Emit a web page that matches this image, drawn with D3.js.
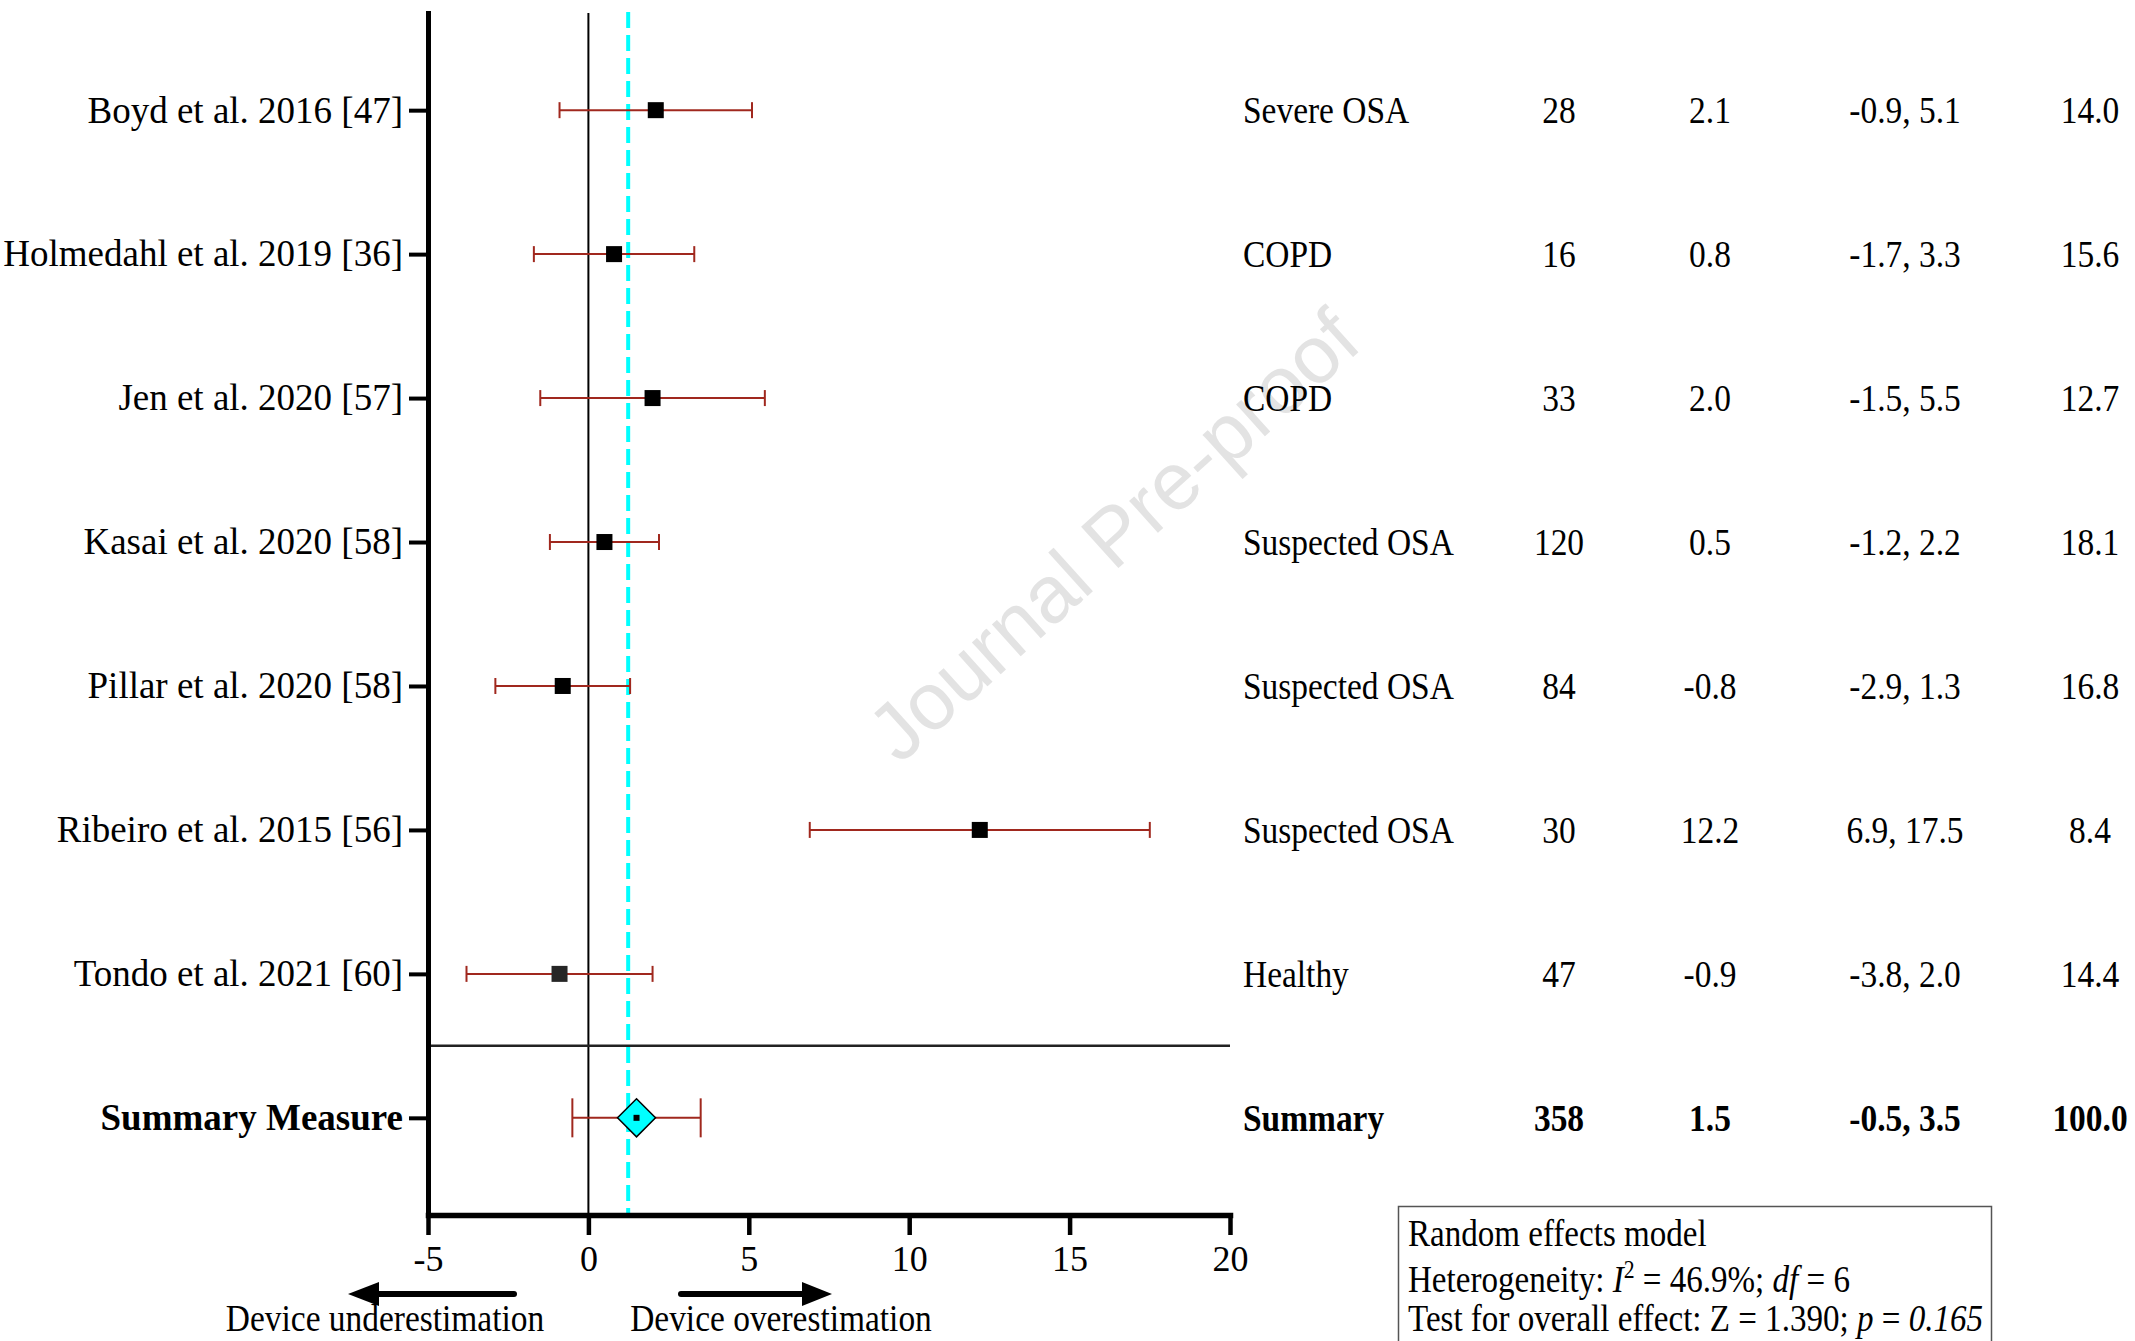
<!DOCTYPE html>
<html>
<head>
<meta charset="utf-8">
<style>
  body { margin: 0; background: #fff; }
  svg { display: block; }
</style>
</head>
<body>
<svg width="2135" height="1341" font-family="'Liberation Serif', 'Times New Roman', serif"></svg>
<script src="https://d3js.org/d3.v7.min.js"></script>
<script>

// forest plot values, one entry per row (last row = pooled estimate)
var studies = ["Boyd et al. 2016 [47]", "Holmedahl et al. 2019 [36]", "Jen et al. 2020 [57]",
  "Kasai et al. 2020 [58]", "Pillar et al. 2020 [58]", "Ribeiro et al. 2015 [56]",
  "Tondo et al. 2021 [60]", "Summary Measure"];
var populations = ["Severe OSA", "COPD", "COPD", "Suspected OSA", "Suspected OSA",
  "Suspected OSA", "Healthy", "Summary"];
var sampleSizes = [28, 16, 33, 120, 84, 30, 47, 358];
var meanDiffs = [2.1, 0.8, 2.0, 0.5, -0.8, 12.2, -0.9, 1.5];
var ciLower = [-0.9, -1.7, -1.5, -1.2, -2.9, 6.9, -3.8, -0.5];
var ciUpper = [5.1, 3.3, 5.5, 2.2, 1.3, 17.5, 2.0, 3.5];
var weights = [14.0, 15.6, 12.7, 18.1, 16.8, 8.4, 14.4, 100.0];
var xTicks = [-5, 0, 5, 10, 15, 20];
var dashedRef = 1.24;

var svg = d3.select("svg"),
    width = +svg.attr("width"),
    height = +svg.attr("height");

var rows = d3.range(studies.length),
    last = studies.length - 1,
    red = "#a0281e";

var x = d3.scaleLinear().domain([-5, 20]).range([428, 1230]);
var y = d3.scalePoint().domain(rows).range([13, 1215]).padding(0.675);

svg.append("rect").attr("width", width).attr("height", height).attr("fill", "#fff");

// watermark
svg.append("text")
    .attr("transform", "translate(1132,556) rotate(-42)")
    .attr("text-anchor", "middle")
    .attr("font-family", "'Liberation Sans', Arial, sans-serif")
    .attr("font-size", 81)
    .attr("fill", "#e3e3e3")
    .text("Journal Pre-proof");

// no-difference line
svg.append("line")
    .attr("x1", x(0)).attr("x2", x(0))
    .attr("y1", 13).attr("y2", 1215)
    .attr("stroke", "#000").attr("stroke-width", 2);

// dashed reference line
svg.append("line")
    .attr("x1", x(dashedRef)).attr("x2", x(dashedRef))
    .attr("y1", 12).attr("y2", 1213)
    .attr("stroke", "#00ffff").attr("stroke-width", 4)
    .attr("stroke-dasharray", "16,7");

// separator above summary row
var sepY = (y(last - 1) + y(last)) / 2;
svg.append("line")
    .attr("x1", x(-5)).attr("x2", x(20))
    .attr("y1", sepY).attr("y2", sepY)
    .attr("stroke", "#222").attr("stroke-width", 2.5);

// error bars
var bars = svg.append("g").selectAll("g")
  .data(rows)
  .join("g");

bars.append("line")
    .attr("x1", function(i) { return x(ciLower[i]); })
    .attr("x2", function(i) { return x(ciUpper[i]); })
    .attr("y1", function(i) { return y(i); })
    .attr("y2", function(i) { return y(i); })
    .attr("stroke", red).attr("stroke-width", 2);

bars.selectAll(".cap")
  .data(function(i) {
    var h = i === last ? 19.5 : 8;
    return [ciLower[i], ciUpper[i]].map(function(v) { return {v: v, row: i, h: h}; });
  })
  .join("line")
    .attr("class", "cap")
    .attr("x1", function(d) { return x(d.v); })
    .attr("x2", function(d) { return x(d.v); })
    .attr("y1", function(d) { return y(d.row) - d.h; })
    .attr("y2", function(d) { return y(d.row) + d.h; })
    .attr("stroke", red).attr("stroke-width", 2);

// study point estimates
svg.append("g").selectAll("rect")
  .data(rows.slice(0, last))
  .join("rect")
    .attr("x", function(i) { return x(meanDiffs[i]) - 8; })
    .attr("y", function(i) { return y(i) - 8; })
    .attr("width", 16).attr("height", 16)
    .attr("fill", function(i) { return studies[i].indexOf("Tondo") === 0 ? "#262626" : "#000"; });

// pooled diamond
var cx = x(meanDiffs[last]), cy = y(last), r = 19;
svg.append("path")
    .attr("d", "M" + (cx - r) + "," + cy + "L" + cx + "," + (cy - r) + "L" + (cx + r) + "," + cy + "L" + cx + "," + (cy + r) + "Z")
    .attr("fill", "#00ffff").attr("stroke", "#000").attr("stroke-width", 1.5);
svg.append("rect")
    .attr("x", cx - 3).attr("y", cy - 3).attr("width", 6).attr("height", 6)
    .attr("fill", "#000");

// axes
var yAxis = svg.append("g")
    .attr("transform", "translate(" + x(-5) + ",0)")
    .call(d3.axisLeft(y).tickSize(19).tickSizeOuter(0).tickPadding(6)
      .tickFormat(function(i) { return studies[i]; }));
yAxis.attr("font-family", null).attr("font-size", null);
yAxis.select(".domain").attr("stroke-width", 5).attr("stroke-linecap", "square");
yAxis.selectAll(".tick line").attr("stroke-width", 4);
yAxis.selectAll(".tick text")
    .attr("font-size", 37)
    .attr("fill", "#000")
    .attr("font-weight", function(i) { return i === last ? "bold" : null; });

var xAxis = svg.append("g")
    .attr("transform", "translate(0,1215)")
    .call(d3.axisBottom(x).tickValues(xTicks).tickSize(20).tickSizeOuter(0).tickPadding(10)
      .tickFormat(function(d) { return String(d); }));
xAxis.attr("font-family", null).attr("font-size", null);
xAxis.select(".domain").attr("stroke-width", 5.5).attr("stroke-linecap", "square");
xAxis.selectAll(".tick line").attr("stroke-width", 4.5);
xAxis.selectAll(".tick text").attr("font-size", 36).attr("fill", "#000");

// table on the right
var columns = [
  {vals: populations, x: 1243, anchor: "start"},
  {vals: sampleSizes.map(String), x: 1559, anchor: "middle"},
  {vals: meanDiffs.map(function(v) { return v.toFixed(1); }), x: 1710, anchor: "middle"},
  {vals: rows.map(function(i) { return ciLower[i].toFixed(1) + ", " + ciUpper[i].toFixed(1); }), x: 1905, anchor: "middle"},
  {vals: weights.map(function(v) { return v.toFixed(1); }), x: 2090, anchor: "middle"}
];

columns.forEach(function(col) {
  svg.append("g").selectAll("text")
    .data(rows)
    .join("text")
      .attr("transform", function(i) { return "translate(" + col.x + "," + (y(i) + 13) + ") scale(0.88,1)"; })
      .attr("text-anchor", col.anchor)
      .attr("font-size", 38)
      .attr("font-weight", function(i) { return i === last ? "bold" : null; })
      .text(function(i) { return col.vals[i]; });
});

// direction arrows
var arrowY = 1294;
svg.append("line").attr("x1", 514).attr("x2", 372).attr("y1", arrowY).attr("y2", arrowY)
    .attr("stroke", "#000").attr("stroke-width", 6).attr("stroke-linecap", "round");
svg.append("path").attr("d", "M348," + arrowY + "L379," + (arrowY - 12) + "L379," + (arrowY + 12) + "Z");
svg.append("line").attr("x1", 681).attr("x2", 808).attr("y1", arrowY).attr("y2", arrowY)
    .attr("stroke", "#000").attr("stroke-width", 6).attr("stroke-linecap", "round");
svg.append("path").attr("d", "M832," + arrowY + "L802," + (arrowY - 12) + "L802," + (arrowY + 12) + "Z");

[["Device underestimation", 385], ["Device overestimation", 781]].forEach(function(d) {
  svg.append("text")
      .attr("transform", "translate(" + d[1] + ",1331) scale(0.88,1)")
      .attr("text-anchor", "middle")
      .attr("font-size", 38)
      .text(d[0]);
});

// model statistics box
svg.append("rect")
    .attr("x", 1398.5).attr("y", 1206.5).attr("width", 593).attr("height", 200)
    .attr("fill", "none").attr("stroke", "#555").attr("stroke-width", 1.5);

var stats = svg.append("g").attr("font-size", 38);

stats.append("text")
    .attr("transform", "translate(1408,1246) scale(0.87,1)")
    .text("Random effects model");

var l2 = stats.append("text").attr("transform", "translate(1408,1292) scale(0.87,1)");
l2.append("tspan").text("Heterogeneity: ");
l2.append("tspan").attr("font-style", "italic").text("I");
l2.append("tspan").attr("dy", -14).attr("font-size", 25).text("2");
l2.append("tspan").attr("dy", 14).text(" = 46.9%; ");
l2.append("tspan").attr("font-style", "italic").text("df");
l2.append("tspan").text(" = 6");

var l3 = stats.append("text").attr("transform", "translate(1408,1331) scale(0.87,1)");
l3.append("tspan").text("Test for overall effect: Z = 1.390; ");
l3.append("tspan").attr("font-style", "italic").text("p");
l3.append("tspan").text(" = ");
l3.append("tspan").attr("font-style", "italic").text("0.165");

</script>
</body>
</html>
